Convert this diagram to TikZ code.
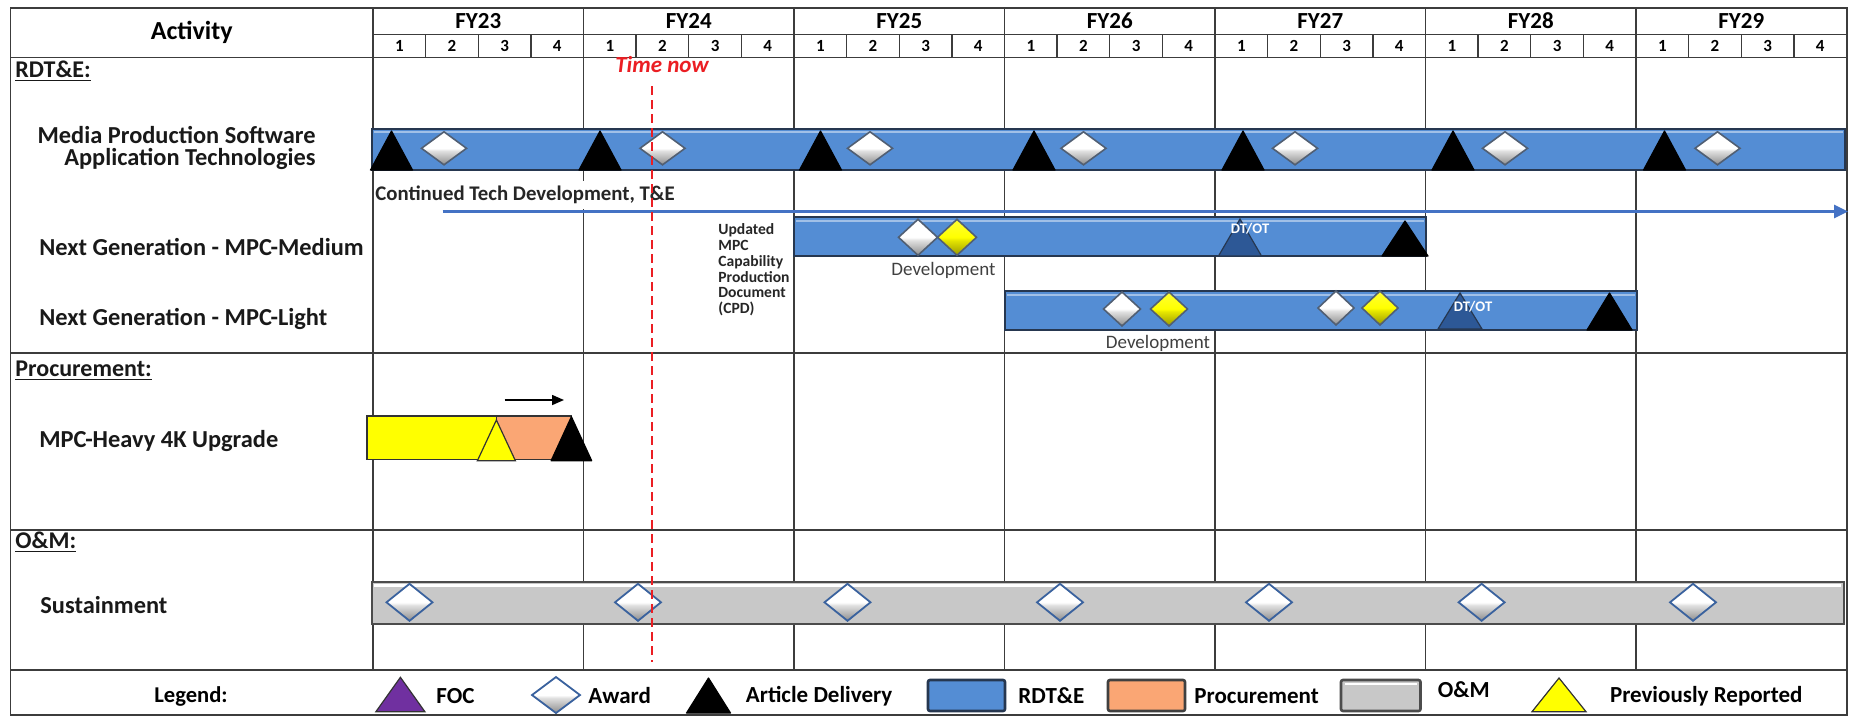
\documentclass[tikz,border=0pt]{standalone}
\usepackage{fontspec}
\setmainfont{Carlito}
\usetikzlibrary{arrows.meta}
\newcommand\myfs[2]{\fontsize{#1}{#2}\selectfont}
\newcommand\dmd[5]{\path[#5] (#1-#3,#2) -- (#1,#2-#4) -- (#1+#3,#2) -- (#1,#2+#4) -- cycle;}
\newcommand\tri[5]{\path[#5] (#1-#4,#3) -- (#1,#2) -- (#1+#4,#3) -- cycle;}
\definecolor{barblue}{RGB}{84,141,212}
\definecolor{barbord}{RGB}{38,55,80}
\definecolor{dtblue}{RGB}{45,88,150}
\definecolor{omgrey}{RGB}{200,200,200}
\definecolor{procor}{RGB}{250,166,116}
\definecolor{gridc}{RGB}{60,60,60}
\definecolor{arrblue}{RGB}{68,114,196}
\definecolor{focp}{RGB}{112,48,160}
\definecolor{diaout}{RGB}{58,98,158}
\definecolor{ylw}{RGB}{255,255,0}
\definecolor{nowred}{RGB}{235,30,35}
\pgfdeclareverticalshading{gemw}{100bp}{color(0bp)=(black!45); color(25bp)=(black!45); color(46bp)=(black!12); color(50bp)=(white); color(100bp)=(white)}
\pgfdeclareverticalshading{gemy}{100bp}{color(0bp)=(yellow!60!black); color(25bp)=(yellow!60!black); color(46bp)=(yellow!90!black); color(50bp)=(yellow); color(75bp)=(yellow!80!white); color(100bp)=(yellow!80!white)}
\begin{document}
\begin{tikzpicture}[x=0.5pt,y=-0.5pt,
  grid/.style={draw=gridc, line width=0.7pt},
  lab/.style={font=\bfseries\myfs{12.2}{11.4}, text=black!90, inner sep=0pt},
  sec/.style={font=\bfseries\myfs{12}{14}, text=black!90, inner sep=0pt, anchor=west},
  fy/.style={font=\bfseries\myfs{11.5}{13}, inner sep=0pt},
  qn/.style={font=\bfseries\myfs{8.5}{10}, inner sep=0pt},
  leg/.style={font=\bfseries\myfs{11.5}{13}, inner sep=0pt, anchor=west},
  dev/.style={font=\myfs{9.5}{11}, text=black!75, inner sep=0pt},
  dtlab/.style={font=\bfseries\myfs{7.3}{9}, text=white, inner sep=0pt},
  rdbar/.style={fill=barblue, draw=barbord, line width=1pt},
  ybar/.style={fill=ylw, draw=black!80, line width=0.8pt},
  pbar/.style={fill=procor, draw=black!80, line width=0.8pt},
  obar/.style={fill=omgrey, draw=black!70, line width=1pt},
  art/.style={fill=black, draw=black, line width=0.6pt, line join=round},
  dtt/.style={fill=dtblue, draw=barbord, line width=0.6pt},
  ytri/.style={fill=ylw, draw=black!80, line width=0.6pt},
  foct/.style={fill=focp, draw=black!80, line width=0.6pt},
  awd/.style={shading=gemw, draw=barbord!80, line width=0.8pt},
  awdb/.style={shading=gemw, draw=diaout, line width=0.9pt},
  ydm/.style={shading=gemy, draw=barbord!80, line width=0.8pt},
  hil/.style={draw=white, opacity=0.45, line width=1pt},
]
\useasboundingbox (0,0) rectangle (1853,719);
\fill[white] (0,0) rectangle (1853,719);

% ---------- grid ----------
\draw[grid] (10.7,8) rectangle (1847,715);
\draw[grid] (373,34.3) -- (1847,34.3);
\draw[grid] (10.7,57.3) -- (1847,57.3);
\draw[grid] (10.7,353) -- (1847,353);
\draw[grid] (10.7,530) -- (1847,530);
\draw[grid] (10.7,670) -- (1847,670);
\foreach \i in {0,...,6} {
  \draw[grid] (373+210.5*\i,8) -- (373+210.5*\i,670);
  \foreach \q in {1,2,3}
    \draw[grid] (373+210.5*\i+52.625*\q,34.3) -- (373+210.5*\i+52.625*\q,57.3);
}

% ---------- header ----------
\node[font=\bfseries\myfs{13}{15}, inner sep=0pt] (act) at (191.8,32.6) {Activity};
\foreach \i/\t in {0/FY23,1/FY24,2/FY25,3/FY26,4/FY27,5/FY28,6/FY29} {
  \node[fy] (fy\i) at (373+210.5*\i+105.25,21) {\t};
  \foreach \q in {1,2,3,4}
    \node[qn] (q\i\q) at (373+210.5*\i+52.625*\q-26.3,46) {\q};
}

% ---------- section labels ----------
\node[sec] (rdte) at (15,71) {\underline{RDT\&E:}};
\node[sec] (proc) at (15,371) {\underline{Procurement:}};
\node[sec] (om) at (15,542) {\underline{O\&M:}};

% ---------- row labels ----------
\node[lab, align=right, anchor=east] (mpsat) at (316,148) {Media Production Software\\Application Technologies};
\node[lab, anchor=west] (mpcm) at (39,247) {Next Generation - MPC-Medium};
\node[lab, anchor=west] (mpcl) at (39,319) {Next Generation - MPC-Light};
\node[lab, anchor=west] (heavy) at (39,441) {MPC-Heavy 4K Upgrade};
\node[lab, anchor=west] (sust) at (40,605) {Sustainment};

% ---------- MPSAT ----------
\draw[rdbar] (372,128.5) rectangle (1845,170);
\draw[hil] (374,132) -- (1843,132);
\foreach \x in {391.5,600,820.5,1034,1243,1453,1664.5} {\tri{\x}{131}{170}{21}{art}}
\foreach \x in {444,662.5,870,1083.5,1295,1505,1717.5} {\dmd{\x}{148.3}{22.5}{16.5}{awd}}

% ---------- continued tech development ----------
\node[font=\bfseries\myfs{10.4}{12}, text=black!85, fill=white, inner xsep=0pt, inner ysep=2.5pt, anchor=west] (ctd) at (375,195) {Continued Tech Development, T\&E};
\coordinate (ctdS) at (442.7,211.5);
\coordinate (ctdE) at (1848,211.5);
\draw[arrblue, line width=1.5pt, -{Triangle[length=7pt,width=6.5pt]}] (ctdS) -- (ctdE);

% ---------- MPC-Medium ----------
\draw[rdbar] (794,217) rectangle (1426,256);
\draw[hil] (796,220.5) -- (1424,220.5);
\dmd{918}{237.3}{19.5}{18}{awd}
\dmd{957}{237.3}{19.5}{18}{ydm}
\tri{1240}{219}{256}{21.5}{dtt}
\tri{1405}{221}{256}{23}{art}
\node[dtlab] (dt1) at (1250,229) {DT/OT};
\node[dev] (dev1) at (943.5,270) {Development};
\node[font=\bfseries\myfs{7.8}{7.95}, text=black!85, align=left, anchor=north west, inner sep=0pt] (cpd) at (718,223) {Updated\\MPC\\Capability\\Production\\Document\\(CPD)};

% ---------- MPC-Light ----------
\draw[rdbar] (1005,291) rectangle (1637,330);
\draw[hil] (1007,294.5) -- (1635,294.5);
\dmd{1122}{309}{18.5}{17}{awd}
\dmd{1169}{309}{18.5}{17}{ydm}
\dmd{1336}{308}{18}{17}{awd}
\dmd{1380}{308}{18}{17}{ydm}
\tri{1460}{293}{329}{22}{dtt}
\tri{1609.5}{293}{330}{22.5}{art}
\node[dtlab] (dt2) at (1473,306.7) {DT/OT};
\node[dev] (dev2) at (1158,343) {Development};

% ---------- MPC-Heavy ----------
\draw[ybar] (367,416) rectangle (496.5,459.3);
\draw[pbar] (496.5,416) rectangle (571.5,459.3);
\tri{496.4}{420}{460.7}{19}{ytri}
\tri{571.4}{416.7}{460.7}{20.3}{art}
\coordinate (hvS) at (504.5,400);
\coordinate (hvE) at (564,400);
\draw[black, line width=0.8pt, -{Triangle[length=6pt,width=5pt]}] (hvS) -- (hvE);

% ---------- Sustainment ----------
\draw[obar] (371.5,582) rectangle (1844,624);
\draw[white, line width=1.2pt] (374,585.5) -- (1841,585.5);
\foreach \x in {409.5,638,847.5,1060,1269,1481.6,1693} {\dmd{\x}{602.3}{23}{18.5}{awdb}}

% ---------- time now ----------
\node[font=\bfseries\itshape\myfs{11.5}{13}, text=nowred, inner sep=0pt] (now) at (662,65) {Time now};
\draw[nowred, line width=1.2pt, dash pattern=on 4.5pt off 2.5pt] (652,86) -- (652,662);

% ---------- legend ----------
\node[font=\bfseries\myfs{11.3}{13}, inner sep=0pt] (legt) at (191,696) {Legend:};
\tri{400.4}{677.3}{711.7}{24.5}{foct}
\node[leg] (lfoc) at (436,696) {FOC};
\dmd{556}{695}{24}{18}{awdb}
\node[leg] (lawd) at (588,696) {Award};
\tri{708.5}{678}{713}{22}{art}
\node[leg] (lart) at (745.5,696) {Article Delivery};
\draw[rdbar, line width=1.3pt, rounded corners=1pt] (928,680) rectangle (1005,711);
\node[leg] (lrd) at (1018,696) {RDT\&E};
\draw[fill=procor, draw=black!75, line width=1.3pt, rounded corners=1pt] (1108,680) rectangle (1185,711);
\node[leg] (lpr) at (1194,696) {Procurement};
\draw[obar, line width=1.3pt, rounded corners=1pt] (1341,680) rectangle (1420.5,711);
\draw[white, line width=1pt] (1345,683.5) -- (1416.5,683.5);
\node[leg] (lom) at (1437.5,690) {O\&M};
\tri{1559}{678}{711.7}{27}{ytri}
\node[leg] (lprev) at (1609.6,696) {Previously Reported};
\end{tikzpicture}
\end{document}
